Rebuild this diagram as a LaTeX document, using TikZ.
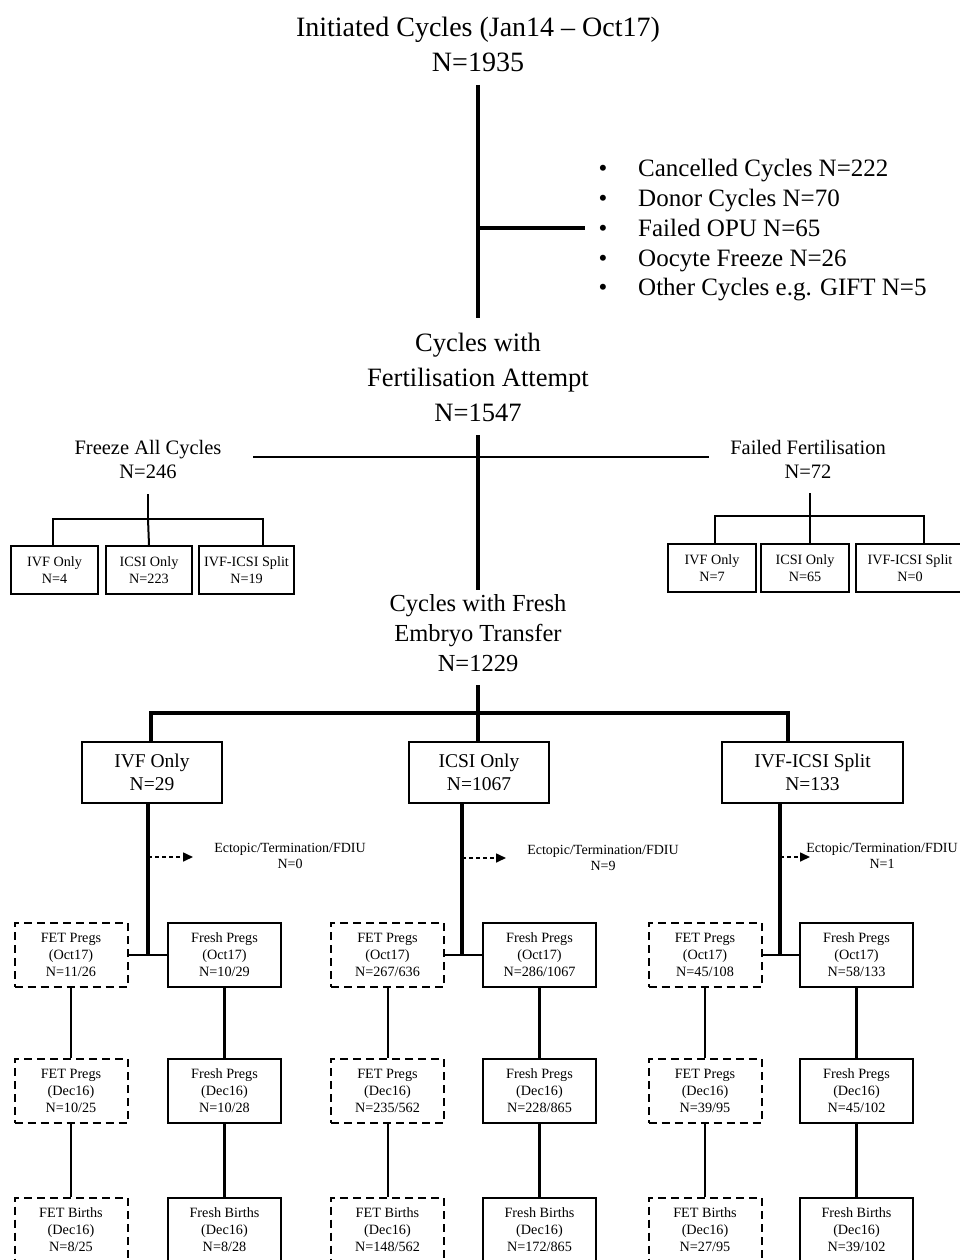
\documentclass[tikz,border=0pt]{standalone}
\usepackage{fontspec}
\setmainfont{Liberation Serif}
\usetikzlibrary{arrows.meta}
\newcommand\szTitle{\fontsize{28}{35}\selectfont}
\newcommand\szBullet{\fontsize{25}{30}\selectfont}
\newcommand\szFert{\fontsize{26.5}{35}\selectfont}
\newcommand\szFresh{\fontsize{24.5}{30}\selectfont}
\newcommand\szSide{\fontsize{20.5}{24}\selectfont}
\newcommand\szMid{\fontsize{19.5}{23}\selectfont}
\newcommand\szSmall{\fontsize{14.2}{17}\selectfont}
\newcommand\szEct{\fontsize{14}{16}\selectfont}
\begin{document}
\begin{tikzpicture}[x=1pt,y=-1pt,
  txt/.style={align=center, inner sep=0pt},
  sbox/.style={draw, line width=2pt, align=center, inner sep=0pt, font=\szSmall},
  mbox/.style={draw, line width=2pt, align=center, inner sep=0pt, font=\szMid, minimum height=61pt},
  frbox/.style={draw, line width=2pt, align=center, inner sep=0pt, font=\szSmall, minimum width=113pt, minimum height=64pt},
  fetbox/.style={frbox, dash pattern=on 8pt off 5pt},
  thk/.style={line width=3.6pt},
  thn/.style={line width=2pt},
  darr/.style={line width=1.6pt, dash pattern=on 4pt off 3pt, -{Triangle[length=10pt,width=9pt]}},
  ect/.style={txt, font=\szEct}
]
\useasboundingbox (0,0) rectangle (960,1260);
\fill[white] (0,0) rectangle (960,1260);

% ---- top
\node[txt, font=\szTitle] (title) at (478,44) {Initiated Cycles (Jan14 -- Oct17)\\N=1935};
\coordinate (t0) at (478,85);
\coordinate (t1) at (478,318);
\coordinate (tj) at (478,228);
\coordinate (te) at (585,228);
\draw[thk] (t0) -- (t1);
\draw[thk] (tj) -- (te);

\foreach \i/\y/\t in {1/177/Cancelled Cycles N=222, 2/206/Donor Cycles N=70, 3/236/Failed OPU N=65, 4/266/Oocyte Freeze N=26, 5/295/Other Cycles e.g. GIFT N=5}{
  \node[txt, font=\szBullet, anchor=base] (bul\i) at (603,\y) {•};
  \node[txt, font=\szBullet, anchor=base west] (exc\i) at (638,\y) {\t};
}

% ---- fertilisation attempt
\node[txt, font=\szFert] (fert) at (478,377) {Cycles with\\Fertilisation Attempt\\N=1547};
\coordinate (f0) at (478,435);
\coordinate (f1) at (478,590);
\coordinate (fl) at (253,457);
\coordinate (fr) at (709,457);
\draw[thk] (f0) -- (f1);
\draw[thn] (fl) -- (fr);

% ---- freeze all
\node[txt, font=\szSide] (freeze) at (148,459) {Freeze All Cycles\\N=246};
\node[sbox, minimum width=87pt, minimum height=48pt] (fz1) at (54.5,570) {IVF Only\\N=4};
\node[sbox, minimum width=86pt, minimum height=48pt] (fz2) at (149,570) {ICSI Only\\N=223};
\node[sbox, minimum width=95pt, minimum height=48pt] (fz3) at (246.5,570) {IVF-ICSI Split\\N=19};
\coordinate (fzt) at (148,494);
\coordinate (fzj) at (148,519);
\draw[thn] (fzt) -- (fzj);
\draw[thn] ([xshift=-1.5pt]fz1.north) |- (fzj) -| ([xshift=16.5pt]fz3.north);
\draw[thn] (fzj) -- (fz2.north);

% ---- failed fertilisation
\node[txt, font=\szSide] (failed) at (808,459) {Failed Fertilisation\\N=72};
\node[sbox, minimum width=88pt, minimum height=48pt] (ff1) at (712,568) {IVF Only\\N=7};
\node[sbox, minimum width=88pt, minimum height=48pt] (ff2) at (805,568) {ICSI Only\\N=65};
\node[sbox, minimum width=108pt, minimum height=48pt] (ff3) at (910,568) {IVF-ICSI Split\\N=0};
\coordinate (fft) at (810,493);
\coordinate (ffj) at (810,516);
\draw[thn] (fft) -- (ffj);
\draw[thn] ([xshift=3pt]ff1.north) |- (ffj) -| ([xshift=14pt]ff3.north);
\draw[thn] (ffj) -- ([xshift=5pt]ff2.north);

% ---- fresh embryo transfer
\node[txt, font=\szFresh] (fresh) at (478,633) {Cycles with Fresh\\Embryo Transfer\\N=1229};
\node[mbox, minimum width=140pt] (b1) at (152,772.5) {IVF Only\\N=29};
\node[mbox, minimum width=140pt] (b2) at (479,772.5) {ICSI Only\\N=1067};
\node[mbox, minimum width=181pt] (b3) at (812.5,772.5) {IVF-ICSI Split\\N=133};
\coordinate (r0) at (478,685);
\coordinate (rj) at (478,713);
\draw[thk] (r0) -- (rj) -- (b2.north -| rj);
\draw[thk] ([xshift=-1pt]b1.north) |- (rj) -| ([xshift=-24.5pt]b3.north);

% ---- row 1
\node[fetbox] (fet1) at (71,955) {FET Pregs\\(Oct17)\\N=11/26};
\node[frbox]  (fr1)  at (224.5,955) {Fresh Pregs\\(Oct17)\\N=10/29};
\node[fetbox] (fet2) at (387.5,955) {FET Pregs\\(Oct17)\\N=267/636};
\node[frbox]  (fr2)  at (539.5,955) {Fresh Pregs\\(Oct17)\\N=286/1067};
\node[fetbox] (fet3) at (705,955) {FET Pregs\\(Oct17)\\N=45/108};
\node[frbox]  (fr3)  at (856.5,955) {Fresh Pregs\\(Oct17)\\N=58/133};

% ---- row 2
\node[fetbox] (fet1b) at (71,1091) {FET Pregs\\(Dec16)\\N=10/25};
\node[frbox]  (fr1b)  at (224.5,1091) {Fresh Pregs\\(Dec16)\\N=10/28};
\node[fetbox] (fet2b) at (387.5,1091) {FET Pregs\\(Dec16)\\N=235/562};
\node[frbox]  (fr2b)  at (539.5,1091) {Fresh Pregs\\(Dec16)\\N=228/865};
\node[fetbox] (fet3b) at (705,1091) {FET Pregs\\(Dec16)\\N=39/95};
\node[frbox]  (fr3b)  at (856.5,1091) {Fresh Pregs\\(Dec16)\\N=45/102};

% ---- row 3
\node[fetbox] (fet1c) at (71,1229.5) {FET Births\\(Dec16)\\N=8/25};
\node[frbox]  (fr1c)  at (224.5,1229.5) {Fresh Births\\(Dec16)\\N=8/28};
\node[fetbox] (fet2c) at (387.5,1229.5) {FET Births\\(Dec16)\\N=148/562};
\node[frbox]  (fr2c)  at (539.5,1229.5) {Fresh Births\\(Dec16)\\N=172/865};
\node[fetbox] (fet3c) at (705,1229.5) {FET Births\\(Dec16)\\N=27/95};
\node[frbox]  (fr3c)  at (856.5,1229.5) {Fresh Births\\(Dec16)\\N=39/102};

% ---- branch connectors
\foreach \k/\s in {1/-4pt, 2/-17pt, 3/-32.5pt}{
  \draw[thn] (fet\k.east) -- (fr\k.west);
  \draw[thk] ([xshift=\s]b\k.south) -- ([xshift=\s]b\k.south |- fr\k.west);
  \draw[thn] (fet\k.south) -- (fet\k b.north);
  \draw[thn] (fet\k b.south) -- (fet\k c.north);
  \draw[thk] (fr\k.south) -- (fr\k b.north);
  \draw[thk] (fr\k b.south) -- (fr\k c.north);
}

% ---- ectopic arrows
\coordinate (e1s) at (148,857); \coordinate (e1t) at (193,857);
\coordinate (e2s) at (462,858); \coordinate (e2t) at (506,858);
\coordinate (e3s) at (780,857); \coordinate (e3t) at (810,857);
\draw[darr] (e1s) -- (e1t);
\draw[darr] (e2s) -- (e2t);
\draw[darr] (e3s) -- (e3t);
\node[ect] (ec1) at (290,856) {Ectopic/Termination/FDIU\\N=0};
\node[ect] (ec2) at (603,858) {Ectopic/Termination/FDIU\\N=9};
\node[ect] (ec3) at (882,856) {Ectopic/Termination/FDIU\\N=1};
\end{tikzpicture}
\end{document}
